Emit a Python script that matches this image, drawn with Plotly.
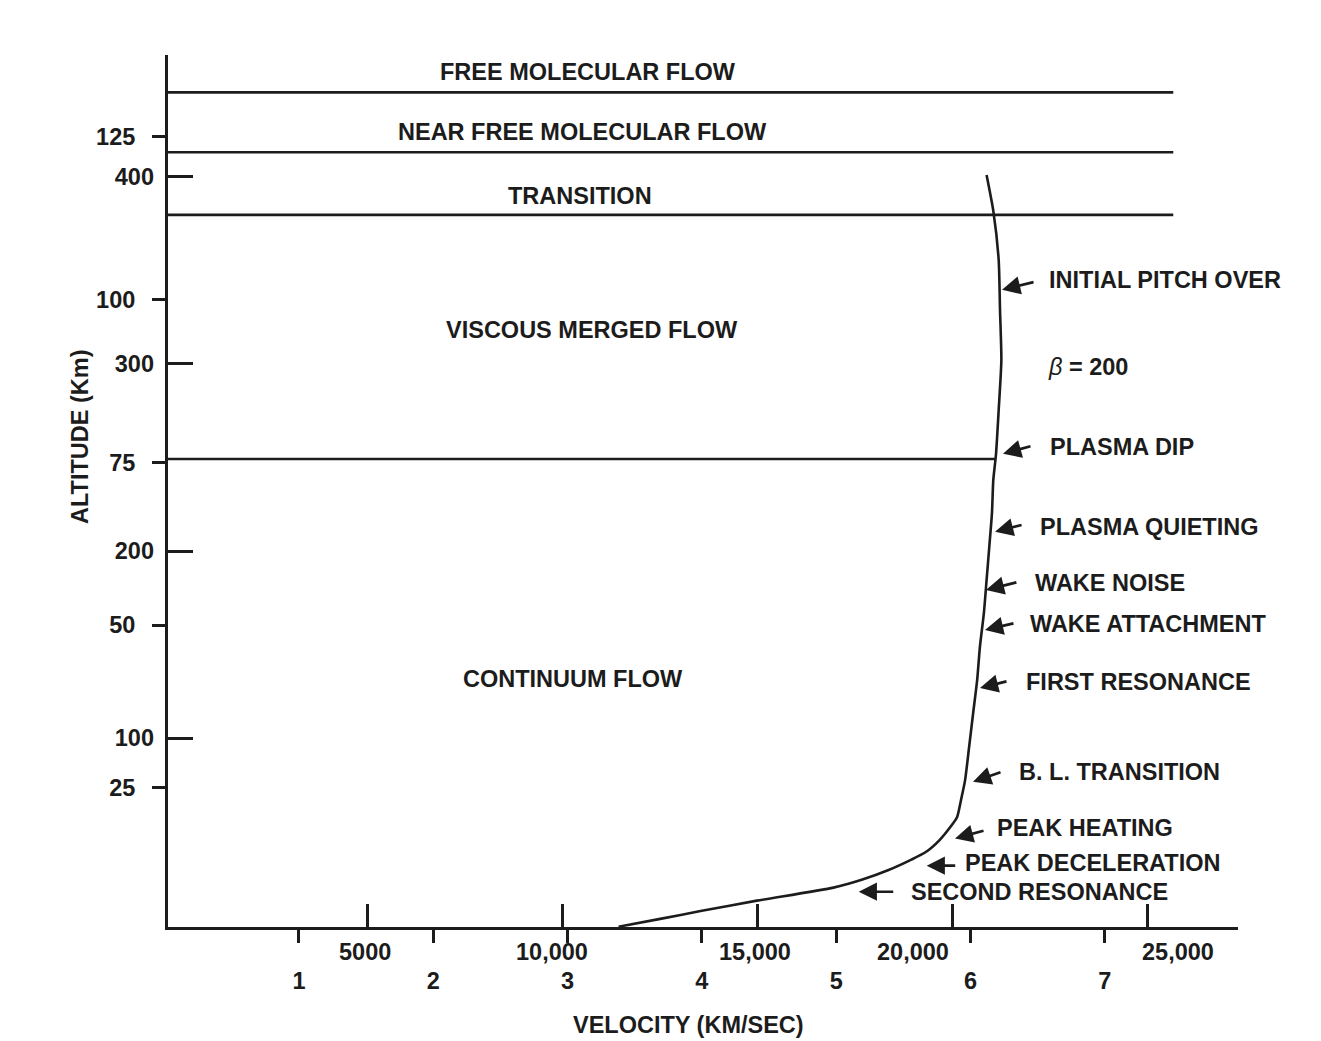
import numpy as np
import plotly.graph_objects as go

# ---------------- data ----------------
# Re-entry trajectory: velocity (km/s) vs altitude (km)
traj_velocity_kms = [6.12, 6.17, 6.21, 6.22, 6.23, 6.21, 6.19, 6.17, 6.16, 6.14,
                     6.12, 6.10, 6.07, 6.05, 6.02, 5.99, 5.96, 5.93, 5.90, 5.85,
                     5.77, 5.67, 5.56, 5.39, 5.19, 4.98, 4.41, 3.99, 3.69, 3.38]
traj_altitude_km = [119.1, 113.6, 106.1, 98.4, 90.7, 83.0, 76.2, 72.3, 67.2, 62.0,
                    56.9, 51.9, 46.6, 41.6, 36.5, 31.3, 26.2, 23.2, 20.5, 19.0,
                    17.0, 15.2, 14.0, 12.4, 10.9, 9.7, 7.7, 6.1, 4.9, 3.7]

# flow-regime boundaries (altitude, km)
regime_boundary_km = [131.8, 122.6, 113.0, 75.5]
regime_boundary_end_kms = 7.51          # upper boundaries stop here
regime_names = ["FREE MOLECULAR FLOW", "NEAR FREE MOLECULAR FLOW", "TRANSITION",
                "VISCOUS MERGED FLOW", "CONTINUUM FLOW"]
regime_label_kms = [3.15, 3.11, 3.09, 3.18, 3.04]
regime_label_km = [134.9, 125.7, 115.9, 95.3, 41.7]

# trajectory events (arrow tip position in km/s, km)
event_names = ["INITIAL PITCH OVER", "PLASMA DIP", "PLASMA QUIETING", "WAKE NOISE",
               "WAKE ATTACHMENT", "FIRST RESONANCE", "B. L. TRANSITION",
               "PEAK HEATING", "PEAK DECELERATION", "SECOND RESONANCE"]
event_tip_kms = [6.235, 6.242, 6.183, 6.115, 6.108, 6.071, 6.019, 5.885, 5.674, 5.168]
event_tip_km = [101.5, 76.3, 64.35, 55.4, 49.26, 40.35, 25.96, 17.26, 13.07, 9.07]
event_label_kms = [6.570, 6.577, 6.503, 6.465, 6.428, 6.399, 6.346, 6.182, 5.944, 5.546]
event_label_km = [103.0, 77.3, 65.0, 56.4, 50.2, 41.3, 27.4, 18.8, 13.5, 9.03]
# arrow tail offset from tip (pixels)
event_tail_dx = [33, 29, 28, 32, 30, 28, 29, 30, 30, 36]
event_tail_dy = [-8, -8, -7, -8, -7, -7, -10, -8, 0, 0]

beta_text = "<i style='font-weight:normal'>β</i> = 200"
beta_kms, beta_km = 6.562, 89.6

# axis ticks
alt_km_ticks = [25, 50, 75, 100, 125]
alt_kft_ticks = [100, 200, 300, 400]
vel_kms_ticks = [1, 2, 3, 4, 5, 6, 7]
vel_fts_ticks = [5000, 10000, 15000, 20000, 25000]
vel_fts_labels = ["5000", "10,000", "15,000", "20,000", "25,000"]
fts_label_xshift = [-2, -10, -2, -39, 31]

# ---------------- style ----------------
INK = "#1c1c1c"
FONT = "Liberation Sans, Arial, Helvetica, sans-serif"
FS = 23.5

fig = go.Figure()

# regime boundary lines
x0 = 0.025
traj_v_rev = traj_velocity_kms[::-1]
traj_a_rev = traj_altitude_km[::-1]
for i, alt in enumerate(regime_boundary_km):
    if i < 3:
        xe = regime_boundary_end_kms
    else:
        xe = float(np.interp(alt, traj_a_rev, traj_v_rev))
    fig.add_trace(go.Scatter(x=[x0, xe], y=[alt, alt], mode="lines",
                             line=dict(color=INK, width=2.6), hoverinfo="skip",
                             showlegend=False, xaxis="x", yaxis="y"))

# trajectory
fig.add_trace(go.Scatter(x=traj_velocity_kms, y=traj_altitude_km, mode="lines",
                         line=dict(color=INK, width=2.6, shape="spline", smoothing=0.6),
                         hoverinfo="skip", showlegend=False, xaxis="x", yaxis="y"))

# invisible trace on secondary axes so they render
fig.add_trace(go.Scatter(x=[vel_fts_ticks[0]], y=[alt_kft_ticks[0]], mode="markers",
                         marker=dict(opacity=0), hoverinfo="skip", showlegend=False,
                         xaxis="x2", yaxis="y2"))

ann = []
for name, vx, vy in zip(regime_names, regime_label_kms, regime_label_km):
    ann.append(dict(x=vx, y=vy, xref="x", yref="y", text=name, showarrow=False,
                    xanchor="center", yanchor="middle",
                    font=dict(family=FONT, size=FS, color=INK)))

for name, tx, ty, lx, ly, dx, dy in zip(event_names, event_tip_kms, event_tip_km,
                                         event_label_kms, event_label_km,
                                         event_tail_dx, event_tail_dy):
    ann.append(dict(x=tx, y=ty, xref="x", yref="y", text="", showarrow=True,
                    ax=dx, ay=dy, arrowhead=2, arrowsize=1.35, arrowwidth=2.7,
                    arrowcolor=INK, standoff=0))
    ann.append(dict(x=lx, y=ly, xref="x", yref="y", text=name, showarrow=False,
                    xanchor="left", yanchor="middle",
                    font=dict(family=FONT, size=FS, color=INK)))

ann.append(dict(x=beta_kms, y=beta_km, xref="x", yref="y", text=beta_text,
                showarrow=False, xanchor="left", yanchor="middle",
                font=dict(family=FONT, size=FS, color=INK)))

# ft/s tick labels
for v, lab, sh in zip(vel_fts_ticks, vel_fts_labels, fts_label_xshift):
    ann.append(dict(x=v, y=0, xref="x2", yref="paper", text=lab, showarrow=False,
                    xanchor="center", yanchor="middle", xshift=sh, yshift=-25,
                    font=dict(family=FONT, size=FS, color=INK)))

# axis titles
ann.append(dict(x=0.486, y=-0.1124, xref="paper", yref="paper", text="VELOCITY (KM/SEC)",
                showarrow=False, xanchor="center", yanchor="middle",
                font=dict(family=FONT, size=FS, color=INK)))
ann.append(dict(x=-0.0822, y=0.562, xref="paper", yref="paper", text="ALTITUDE (Km)",
                showarrow=False, xanchor="center", yanchor="middle", textangle=-90,
                font=dict(family=FONT, size=FS, color=INK)))

axis_common = dict(showgrid=False, zeroline=False, color=INK)

# the html page adds an 8px body margin, so the figure is 8px smaller
fig.update_layout(
    width=1313, height=1033,
    margin=dict(l=160, r=83, t=47, b=114),
    paper_bgcolor="white", plot_bgcolor="white",
    font=dict(family=FONT, size=FS, color=INK, weight="bold"),
    showlegend=False,
    annotations=ann,
    xaxis=dict(range=[0.025, 7.992], tickmode="array", tickvals=vel_kms_ticks,
               ticktext=[str(v) for v in vel_kms_ticks],
               ticks="outside", ticklen=13, tickwidth=2.5, tickcolor=INK,
               showline=True, linewidth=3, linecolor=INK,
               tickfont=dict(family=FONT, size=FS, color=INK, weight="bold"),
               ticklabelstandoff=18, **axis_common),
    xaxis2=dict(range=[-103, 27333], overlaying="x", anchor="y", side="bottom",
                tickmode="array", tickvals=vel_fts_ticks, ticks="inside", ticklen=23,
                tickwidth=2.5, tickcolor=INK, showticklabels=False, showline=False,
                **axis_common),
    yaxis=dict(range=[3.654, 137.54], tickmode="array", tickvals=alt_km_ticks,
               ticktext=[str(v) for v in alt_km_ticks],
               ticks="outside", ticklen=13, tickwidth=2.5, tickcolor=INK,
               showline=True, linewidth=3, linecolor=INK,
               tickfont=dict(family=FONT, size=FS, color=INK, weight="bold"),
               ticklabelstandoff=12, **axis_common),
    yaxis2=dict(range=[-0.96, 465.1], overlaying="y", anchor="x", side="left",
                tickmode="array", tickvals=alt_kft_ticks,
                ticktext=[str(v) for v in alt_kft_ticks],
                ticks="inside", ticklen=25, tickwidth=2.5, tickcolor=INK,
                showline=False,
                tickfont=dict(family=FONT, size=FS, color=INK, weight="bold"),
                ticklabelstandoff=13, **axis_common),
)

fig.write_html("out.html")
